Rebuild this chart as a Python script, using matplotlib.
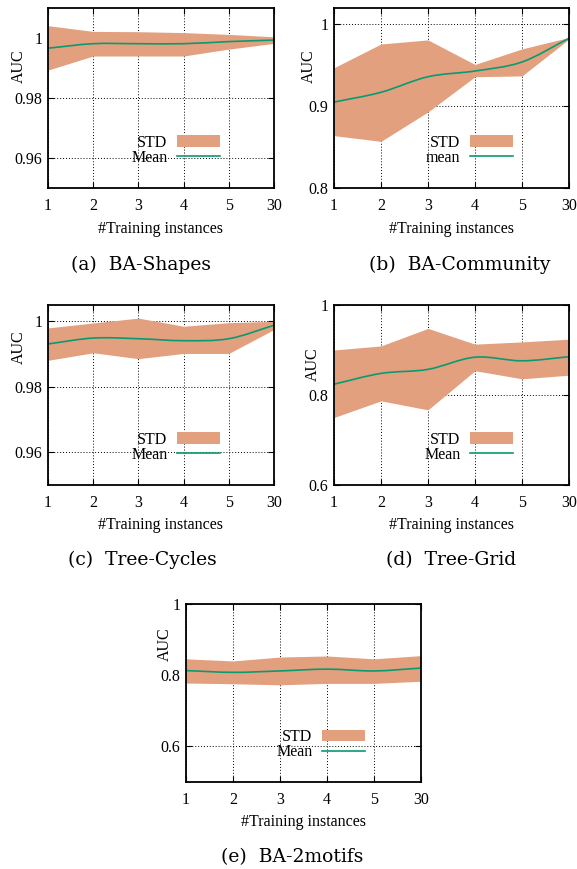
import numpy as np
import matplotlib
matplotlib.use('Agg')
import matplotlib.pyplot as plt
from matplotlib.path import Path
from matplotlib.patches import PathPatch, Patch
from matplotlib.lines import Line2D

plt.rcParams['font.family'] = 'serif'
plt.rcParams['font.serif'] = ['Liberation Serif', 'DejaVu Serif']

# x categories (equally spaced in the plot)
x_labels = ['1', '2', '3', '4', '5', '30']

# (a) BA-Shapes
a_mean = [0.9966, 0.9981, 0.9981, 0.9981, 0.9988, 0.9993]
a_upper = [1.0041, 1.0022, 1.0021, 1.0018, 1.0012, 1.0004]
a_lower = [0.9893, 0.9940, 0.9940, 0.9940, 0.9963, 0.9982]

# (b) BA-Community
b_mean = [0.905, 0.917, 0.936, 0.943, 0.954, 0.983]
b_upper = [0.947, 0.976, 0.981, 0.951, 0.970, 0.984]
b_lower = [0.864, 0.857, 0.893, 0.936, 0.937, 0.982]

# (c) Tree-Cycles
c_mean = [0.9931, 0.9949, 0.9947, 0.9941, 0.9947, 0.9988]
c_upper = [0.9980, 0.9995, 1.0010, 0.9985, 0.9996, 1.0000]
c_lower = [0.9881, 0.9904, 0.9886, 0.9902, 0.9902, 0.9975]

# (d) Tree-Grid
d_mean = [0.824, 0.848, 0.857, 0.884, 0.876, 0.885]
d_upper = [0.900, 0.909, 0.948, 0.913, 0.918, 0.924]
d_lower = [0.750, 0.787, 0.767, 0.854, 0.836, 0.844]

# (e) BA-2motifs
e_mean = [0.813, 0.808, 0.812, 0.817, 0.812, 0.820]
e_upper = [0.846, 0.840, 0.851, 0.854, 0.846, 0.855]
e_lower = [0.778, 0.776, 0.773, 0.777, 0.777, 0.783]

BAND = '#E2A07F'
GREEN = '#0A9A70'
W, H = 577, 869

fig = plt.figure(figsize=(W / 100, H / 100), dpi=100)


def smooth_line(ax, x, y, **kw):
    # draw a smooth curve through the points (cubic bezier segments)
    x = np.asarray(x, float)
    y = np.asarray(y, float)
    m = np.gradient(y, x)
    verts = [(x[0], y[0])]
    codes = [Path.MOVETO]
    for i in range(len(x) - 1):
        h = x[i + 1] - x[i]
        verts += [(x[i] + h / 3, y[i] + m[i] * h / 3),
                  (x[i + 1] - h / 3, y[i + 1] - m[i + 1] * h / 3),
                  (x[i + 1], y[i + 1])]
        codes += [Path.CURVE4] * 3
    ax.add_patch(PathPatch(Path(verts, codes), fill=False, **kw))


def panel(box, mean, upper, lower, ylim, yticks, ylabels, meanlabel,
          auc_xy, xlab_y, caption, cap_xy):
    l, r, t, b = box
    ax = fig.add_axes([l / W, 1 - b / H, (r - l) / W, (b - t) / H])
    xs = np.arange(len(x_labels))
    ax.fill_between(xs, lower, upper, color=BAND, lw=0, zorder=2)
    smooth_line(ax, xs, mean, color=GREEN, lw=1.2, zorder=3)
    ax.set_xlim(0, len(x_labels) - 1)
    ax.set_ylim(*ylim)
    ax.set_xticks(xs)
    ax.set_xticklabels(x_labels)
    ax.set_yticks(yticks)
    ax.set_yticklabels(ylabels)
    ax.tick_params(direction='in', length=4, width=0.8, labelsize=11.5,
                   top=True, right=True, pad=4)
    ax.tick_params(axis='x', pad=7)
    ax.grid(True, color='black', linestyle=(0, (1, 2)), linewidth=0.7, zorder=1)
    ax.set_axisbelow(True)
    for s in ax.spines.values():
        s.set_linewidth(1.3)
        s.set_zorder(5)
    handles = [Patch(facecolor=BAND, edgecolor='none'),
               Line2D([], [], color=GREEN, lw=1.2)]
    ax.legend(handles, ['STD', meanlabel], loc='center right',
              bbox_to_anchor=(0.762, 0.21), markerfirst=False, frameon=False,
              fontsize=11.5, handlelength=2.7, handleheight=0.7,
              handletextpad=0.6, labelspacing=-0.05, borderpad=0,
              borderaxespad=0)
    fig.text(auc_xy[0] / W, 1 - auc_xy[1] / H, 'AUC', rotation=90,
             ha='center', va='center', fontsize=11.5)
    fig.text((l + r) / 2 / W, 1 - xlab_y / H, '#Training instances',
             ha='center', va='center', fontsize=11.5)
    fig.text(cap_xy[0] / W, 1 - cap_xy[1] / H, caption,
             ha='center', va='center', fontsize=13.5, family='DejaVu Serif')
    return ax


panel((48, 274, 8, 188), a_mean, a_upper, a_lower, (0.95, 1.01),
      [0.96, 0.98, 1.0], ['0.96', '0.98', '1'], 'Mean',
      (18.5, 66), 229, '(a)  BA-Shapes', (141, 265))
panel((334, 569, 8, 188), b_mean, b_upper, b_lower, (0.8, 1.02),
      [0.8, 0.9, 1.0], ['0.8', '0.9', '1'], 'mean',
      (308.5, 66), 229, '(b)  BA-Community', (460, 265))
panel((48, 274, 305, 485), c_mean, c_upper, c_lower, (0.95, 1.005),
      [0.96, 0.98, 1.0], ['0.96', '0.98', '1'], 'Mean',
      (18.5, 347), 525, '(c)  Tree-Cycles', (142, 560))
panel((334, 569, 305, 485), d_mean, d_upper, d_lower, (0.6, 1.0),
      [0.6, 0.8, 1.0], ['0.6', '0.8', '1'], 'Mean',
      (313, 364), 525, '(d)  Tree-Grid', (451, 560))
panel((186, 421, 604, 782), e_mean, e_upper, e_lower, (0.5, 1.0),
      [0.6, 0.8, 1.0], ['0.6', '0.8', '1'], 'Mean',
      (165, 644), 822, '(e)  BA-2motifs', (292, 857))

fig.savefig('out.png', dpi=100)
